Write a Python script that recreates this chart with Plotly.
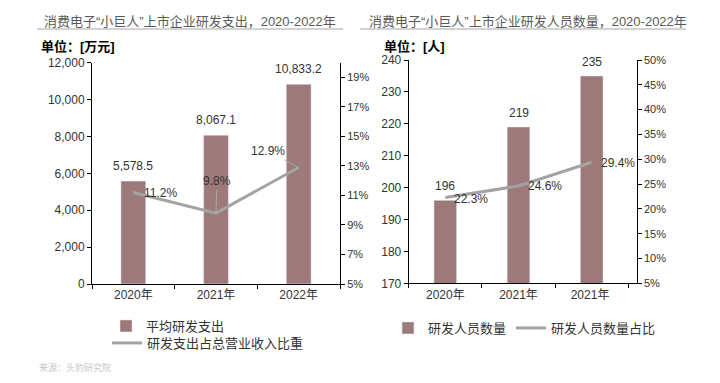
import plotly.graph_objects as go

# ---------------- data ----------------
years_left = ["2020年", "2021年", "2022年"]
rd_spend = [5578.5, 8067.1, 10833.2]          # 平均研发支出 (万元)
rd_ratio = [0.112, 0.098, 0.129]               # 研发支出占总营业收入比重

years_right = ["2020年", "2021年", "2021年 "]  # label as shown in source (duplicate "2021年")
rd_staff = [196, 219, 235]                     # 研发人员数量
rd_staff_ratio = [0.223, 0.246, 0.294]         # 研发人员数量占比

left_title = "消费电子“小巨人”上市企业研发支出，2020-2022年"
right_title = "消费电子“小巨人”上市企业研发人员数量，2020-2022年"
left_unit = "单位：[万元]"
right_unit = "单位：[人]"
source_text = "来源：头豹研究院"

BAR = "#9d7a79"
LINE = "#a3a3a3"
FONT = "Liberation Sans, Arial, Noto Sans CJK SC, sans-serif"
TXT = "#333333"

W, H = 720, 383
def px(x):
    return x / W
def py(y):
    return 1 - y / H

fig = go.Figure()

fig.add_trace(go.Bar(x=years_left, y=rd_spend, name="平均研发支出", marker_color=BAR,
                     width=0.3, xaxis="x", yaxis="y", legend="legend", showlegend=True))
fig.add_trace(go.Scatter(x=years_left, y=rd_ratio, name="研发支出占总营业收入比重", mode="lines",
                         line=dict(color=LINE, width=3), xaxis="x", yaxis="y2", legend="legend2",
                         showlegend=True))

fig.add_trace(go.Bar(x=years_right, y=rd_staff, name="研发人员数量", marker_color=BAR,
                     width=0.31, xaxis="x2", yaxis="y3", legend="legend3", showlegend=True))
fig.add_trace(go.Scatter(x=years_right, y=rd_staff_ratio, name="研发人员数量占比", mode="lines",
                         line=dict(color=LINE, width=3), xaxis="x2", yaxis="y4", legend="legend3",
                         showlegend=True))

axis_common = dict(showline=True, linecolor="black", linewidth=1, ticks="outside",
                   tickcolor="black", ticklen=4, showgrid=False, zeroline=False, automargin=False,
                   tickfont=dict(size=12, color=TXT, family=FONT))
pct_font = dict(size=11, color=TXT, family=FONT)
leg_font = dict(size=13, color=TXT, family=FONT)

fig.update_layout(
    width=W, height=H, margin=dict(l=0, r=0, t=0, b=0, autoexpand=False),
    paper_bgcolor="white", plot_bgcolor="rgba(0,0,0,0)",
    font=dict(family=FONT, color=TXT),
    xaxis=dict(domain=[px(92), px(340)], anchor="y", type="category", tickson="boundaries",
               **axis_common),
    yaxis=dict(domain=[py(284), py(62.7)], anchor="x", range=[0, 12000],
               tickvals=[0, 2000, 4000, 6000, 8000, 10000, 12000], tickformat=",d", **axis_common),
    yaxis2=dict(overlaying="y", side="right", anchor="x", range=[0.05, 0.20],
                tickvals=[0.05, 0.07, 0.09, 0.11, 0.13, 0.15, 0.17, 0.19], tickformat=".0%",
                **{**axis_common, "tickfont": pct_font}),
    xaxis2=dict(domain=[px(408.7), px(636.7)], anchor="y3", type="category", tickson="boundaries",
                **axis_common),
    yaxis3=dict(domain=[py(283.3), py(60)], anchor="x2", range=[170, 240], dtick=10, **axis_common),
    yaxis4=dict(overlaying="y3", side="right", anchor="x2", range=[0.05, 0.50], dtick=0.05,
                tickformat=".0%", **{**axis_common, "tickfont": pct_font}),
    bargap=0.7,
    legend=dict(x=px(106), y=py(311), xanchor="left", yanchor="top", orientation="v",
                font=leg_font, itemwidth=30, bgcolor="rgba(0,0,0,0)"),
    legend2=dict(x=px(107), y=py(328), xanchor="left", yanchor="top", orientation="v",
                 font=leg_font, itemwidth=30, bgcolor="rgba(0,0,0,0)"),
    legend3=dict(x=px(388), y=py(328), xanchor="left", yanchor="middle", orientation="h",
                 font=leg_font, itemwidth=30, bgcolor="rgba(0,0,0,0)"),
)

annotations = []
# titles / units / source
annotations.append(dict(text=left_title, x=px(42), y=py(21), xref="paper", yref="paper",
                        xanchor="left", yanchor="middle", showarrow=False,
                        font=dict(size=13, color="#595959", family=FONT)))
annotations.append(dict(text=right_title, x=px(367), y=py(21), xref="paper", yref="paper",
                        xanchor="left", yanchor="middle", showarrow=False,
                        font=dict(size=13, color="#595959", family=FONT)))
annotations.append(dict(text="<b>" + left_unit + "</b>", x=px(39), y=py(46), xref="paper", yref="paper",
                        xanchor="left", yanchor="middle", showarrow=False,
                        font=dict(size=13, color="#000", family=FONT)))
annotations.append(dict(text="<b>" + right_unit + "</b>", x=px(382), y=py(46), xref="paper", yref="paper",
                        xanchor="left", yanchor="middle", showarrow=False,
                        font=dict(size=13, color="#000", family=FONT)))
annotations.append(dict(text=source_text, x=px(37), y=py(367), xref="paper", yref="paper",
                        xanchor="left", yanchor="middle", showarrow=False,
                        font=dict(size=9, color="#c8c8c8", family=FONT)))

# bar value labels
for xv, yv in zip(years_left, rd_spend):
    annotations.append(dict(text=f"{yv:,.1f}", x=xv, y=yv, xref="x", yref="y", showarrow=False,
                            yanchor="middle", yshift=15, font=dict(size=12, color=TXT, family=FONT)))
for xv, yv in zip(years_right, rd_staff):
    annotations.append(dict(text=f"{yv:d}", x=xv, y=yv, xref="x2", yref="y3", showarrow=False,
                            yanchor="middle", yshift=14, font=dict(size=12, color=TXT, family=FONT)))

# line labels (left)
annotations.append(dict(text=f"{rd_ratio[0]*100:.1f}%", x=years_left[0], y=rd_ratio[0], xref="x", yref="y2",
                        showarrow=False, xshift=27, yanchor="middle",
                        font=dict(size=12, color=TXT, family=FONT)))
annotations.append(dict(text=f"{rd_ratio[1]*100:.1f}%", x=years_left[1], y=rd_ratio[1], xref="x", yref="y2",
                        showarrow=True, arrowhead=0, arrowwidth=0.8, arrowcolor="#b0b0b0",
                        ax=1, ay=-32, font=dict(size=12, color=TXT, family=FONT)))
annotations.append(dict(text=f"{rd_ratio[2]*100:.1f}%", x=years_left[2], y=rd_ratio[2], xref="x", yref="y2",
                        showarrow=True, arrowhead=0, arrowwidth=0.8, arrowcolor="#b0b0b0",
                        ax=-31, ay=-16, font=dict(size=12, color=TXT, family=FONT)))
# line labels (right)
for xv, yv, ys in zip(years_right, rd_staff_ratio, [-2, 0, -1]):
    annotations.append(dict(text=f"{yv*100:.1f}%", x=xv, y=yv, xref="x2", yref="y4",
                            showarrow=False, xshift=26, yshift=ys, yanchor="middle",
                            font=dict(size=12, color=TXT, family=FONT)))

fig.update_layout(annotations=annotations)

# title underlines
fig.add_shape(type="line", xref="paper", yref="paper", x0=px(37), x1=px(343), y0=py(29), y1=py(29),
              line=dict(color="#a6a6a6", width=1))
fig.add_shape(type="line", xref="paper", yref="paper", x0=px(360), x1=px(686), y0=py(29), y1=py(29),
              line=dict(color="#a6a6a6", width=1))

fig.write_html("out.html", config={"displayModeBar": False},
               post_script="document.body.style.margin='0';document.body.style.overflow='hidden';")
